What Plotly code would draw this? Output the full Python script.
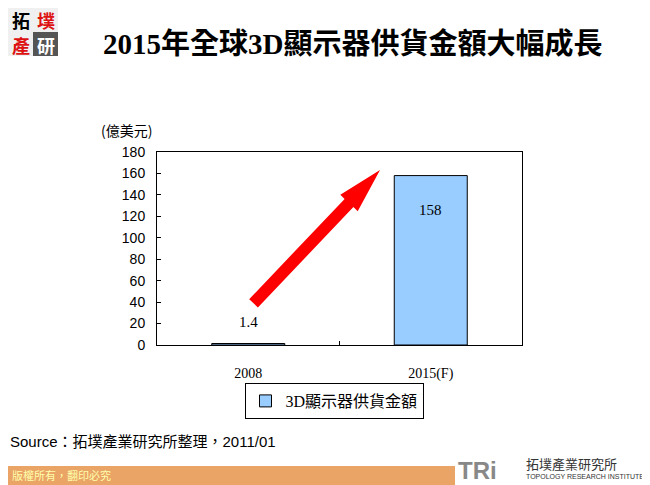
import plotly.graph_objects as go

categories = ["2008", "2015(F)"]
values = [1.4, 158]
value_labels = ["1.4", "158"]
label_shift = [22, -34]
series_name = "3D顯示器供貨金額"
y_ticks = [0, 20, 40, 60, 80, 100, 120, 140, 160, 180]

W, H = 650, 485
OFF = 8  # page body margin of the viewer
L, R, T, B = 157 - OFF, 522 - OFF, 152 - OFF, 345 - OFF


def px(x, y):
    x -= OFF
    y -= OFF
    return (x - L) / (R - L), (B - y) / (B - T)


fig = go.Figure()
fig.add_trace(go.Bar(
    x=categories, y=values, name=series_name, width=0.4,
    marker=dict(color="#99ccff", line=dict(color="black", width=1)),
    showlegend=True,
))

arrow_px = [(249.2, 299.2), (344.6, 198.9), (340.3, 194.7), (380, 170),
            (357.7, 211.3), (353.4, 207.1), (257.9, 307.4)]
pts = [px(a, b) for a, b in arrow_px]
path = "M " + " L ".join(f"{a:.4f},{b:.4f}" for a, b in pts) + " Z"

shapes = [
    dict(type="path", path=path, xref="paper", yref="paper",
         fillcolor="#ff0000", line=dict(width=0)),
    dict(type="rect", xref="paper", yref="paper",
         x0=px(0, 0)[0], x1=px(455, 0)[0], y0=px(0, 486)[1], y1=px(0, 466)[1],
         fillcolor="#e9a466", line=dict(width=0), layer="below"),
    dict(type="rect", xref="paper", yref="paper",
         x0=px(8, 0)[0], x1=px(58, 0)[0], y0=px(0, 56)[1], y1=px(0, 8)[1],
         fillcolor="#f0f0f0", line=dict(width=0), layer="below"),
    dict(type="rect", xref="paper", yref="paper",
         x0=px(33, 0)[0], x1=px(58, 0)[0], y0=px(0, 56)[1], y1=px(0, 32)[1],
         fillcolor="#555555", line=dict(width=0), layer="below"),
]

ann = []
for i, (v, s, sh) in enumerate(zip(values, value_labels, label_shift)):
    ann.append(dict(x=i, y=v, xref="x", yref="y", text=s, showarrow=False,
                    yshift=sh, yanchor="middle",
                    font=dict(family="Liberation Serif, Noto Sans CJK TC", size=15, color="black")))


def text(x, y, s, size, color="black", family="Liberation Sans, Noto Sans CJK TC",
         xanchor="left", yanchor="middle"):
    xp, yp = px(x, y)
    ann.append(dict(x=xp, y=yp, xref="paper", yref="paper", text=s, showarrow=False,
                    xanchor=xanchor, yanchor=yanchor,
                    font=dict(size=size, color=color, family=family)))


text(352, 44, "<b>2015年全球3D顯示器供貨金額大幅成長</b>", 29,
     family="Liberation Serif, Noto Sans CJK TC", xanchor="center")
text(99, 130, "(億美元)", 14, family="Noto Sans CJK TC, Liberation Sans")
text(8, 441, "Source：拓墣產業研究所整理，2011/01", 15)
text(10, 475, "版權所有，翻印必究", 11, color="#ffffaa", family="Noto Sans CJK TC")
text(21, 20, "<b>拓</b>", 18, color="black", family="Noto Sans CJK TC", xanchor="center")
text(46, 20, "<b>墣</b>", 18, color="#dd1111", family="Noto Sans CJK TC", xanchor="center")
text(21, 45, "<b>產</b>", 18, color="#dd1111", family="Noto Sans CJK TC", xanchor="center")
text(46, 45, "<b>研</b>", 18, color="white", family="Noto Sans CJK TC", xanchor="center")
text(456, 470, "<b>TRi</b>", 24, color="#888888", family="Liberation Sans")
text(524, 463, "拓墣產業研究所", 13, color="#333333", family="Noto Sans CJK TC")
text(524, 476, "TOPOLOGY RESEARCH INSTITUTE", 7, color="#333333")

fig.update_layout(
    width=W, height=H,
    margin=dict(l=L, r=W - R, t=T, b=H - B, pad=0),
    paper_bgcolor="white", plot_bgcolor="white",
    shapes=shapes, annotations=ann,
    legend=dict(orientation="h", x=px(334, 0)[0], y=px(0, 401)[1],
                xanchor="center", yanchor="middle",
                bordercolor="black", borderwidth=1, bgcolor="white",
                font=dict(family="Liberation Serif, Noto Sans CJK TC", size=16, color="black")),
    xaxis=dict(type="category", range=[-0.5, 1.5], showline=True, linecolor="black",
               linewidth=1, mirror=True,
               ticks="inside", tickson="boundaries", ticklen=4, tickcolor="black",
               ticklabelstandoff=15,
               tickfont=dict(family="Liberation Serif", size=14, color="black")),
    yaxis=dict(range=[0, 180], tickvals=y_ticks, showline=True, linecolor="black",
               linewidth=1, mirror=True, showgrid=False, zeroline=False,
               ticks="inside", ticklen=4, tickcolor="black",
               ticklabelstandoff=8,
               tickfont=dict(family="Liberation Sans", size=14, color="black")),
)

fig.write_html("out.html")
